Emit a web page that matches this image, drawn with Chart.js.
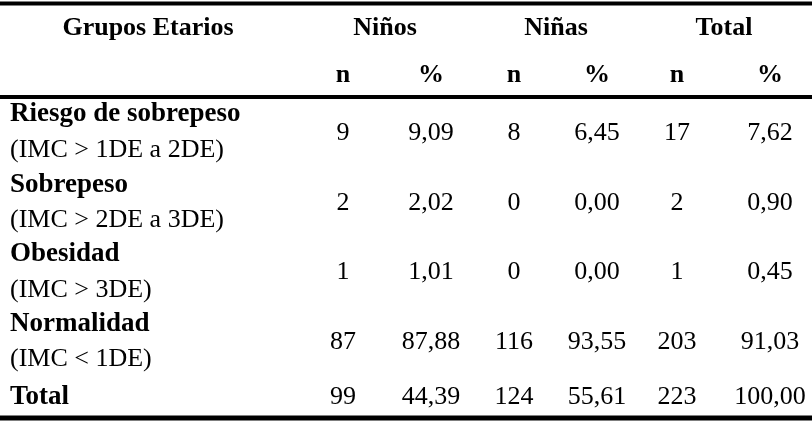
<!DOCTYPE html>
<html><head><meta charset="utf-8">
<script src="https://cdn.jsdelivr.net/npm/chart.js@4"></script>
<style>html,body{margin:0;padding:0;background:#fff}</style>
</head><body>
<canvas id="c" width="812" height="433"></canvas>
<script>
// --- Table data ---
const groups = ['Riesgo de sobrepeso', 'Sobrepeso', 'Obesidad', 'Normalidad', 'Total'];
const criteria = ['(IMC > 1DE a 2DE)', '(IMC > 2DE a 3DE)', '(IMC > 3DE)', '(IMC < 1DE)', ''];
const ninosN = ['9', '2', '1', '87', '99'];
const ninosPct = ['9,09', '2,02', '1,01', '87,88', '44,39'];
const ninasN = ['8', '0', '0', '116', '124'];
const ninasPct = ['6,45', '0,00', '0,00', '93,55', '55,61'];
const totalN = ['17', '2', '1', '203', '223'];
const totalPct = ['7,62', '0,90', '0,45', '91,03', '100,00'];
const headers = ['Grupos Etarios', 'Niños', 'Niñas', 'Total'];
const subHeaders = ['n', '%', 'n', '%', 'n', '%'];

// --- Layout (pixel grid) ---
const colX = [343, 431, 514, 597, 677, 770];
const headX = [148, 385, 556, 724];
const rowY = [133, 203, 272, 342, 397];
const labelY = [114, 185, 254, 324, 397];
const critY = [150, 220, 290, 359, 0];

const serif = '"Liberation Serif", "Times New Roman", serif';
const points = [];
const cols = [ninosN, ninosPct, ninasN, ninasPct, totalN, totalPct];
cols.forEach((col, c) => col.forEach((v, r) => points.push({ x: colX[c], y: rowY[r], t: v, f: '26px ' + serif, a: 'center' })));
groups.forEach((g, r) => points.push({ x: 10, y: labelY[r], t: g, f: 'bold 27px ' + serif, a: 'left' }));
criteria.forEach((g, r) => { if (g) points.push({ x: 10, y: critY[r], t: g, f: '26px ' + serif, a: 'left' }); });
headers.forEach((h, i) => points.push({ x: headX[i], y: 28, t: h, f: 'bold 26px ' + serif, a: 'center' }));
subHeaders.forEach((h, i) => points.push({ x: colX[i], y: 75, t: h, f: 'bold 26px ' + serif, a: 'center' }));

const tablePlugin = {
    id: 'table',
    afterDatasetsDraw(chart) {
        const ctx = chart.ctx;
        const xs = chart.scales.x, ys = chart.scales.y;
        ctx.save();
        ctx.fillStyle = '#000';
        [[3.5, 4], [97, 4], [418, 5]].forEach(([y, w]) => ctx.fillRect(xs.left, ys.getPixelForValue(y) - w / 2, xs.right - xs.left, w));
        ctx.textBaseline = 'middle';
        chart.getDatasetMeta(0).data.forEach((el, i) => {
            const p = points[i];
            ctx.font = p.f;
            ctx.textAlign = p.a;
            ctx.fillText(p.t, el.x, el.y);
        });
        ctx.restore();
    }
};

new Chart(document.getElementById('c'), {
    type: 'scatter',
    data: { datasets: [{ data: points.map(p => ({ x: p.x, y: p.y })), pointRadius: 0 }] },
    options: {
        responsive: false, animation: false,
        layout: { padding: 0 },
        plugins: { legend: { display: false }, tooltip: { enabled: false } },
        scales: {
            x: { type: 'linear', min: 0, max: 812, display: false },
            y: { type: 'linear', min: 0, max: 433, reverse: true, display: false }
        }
    },
    plugins: [tablePlugin]
});
</script>
</body></html>
